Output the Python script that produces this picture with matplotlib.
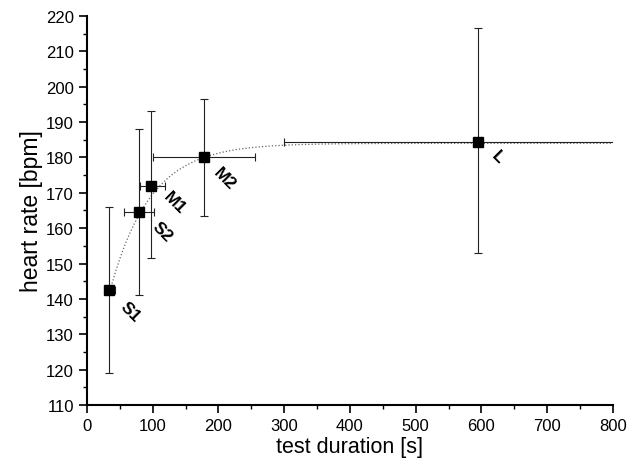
import numpy as np
import matplotlib.pyplot as plt
from matplotlib.ticker import MultipleLocator

plt.rcParams['font.family'] = ['Liberation Sans', 'DejaVu Sans']

# test groups
labels = ['S1', 'S2', 'M1', 'M2', 'L']
duration = [34, 79, 98, 178, 595]
hr = [142.5, 164.5, 172.0, 180.0, 184.5]
hr_lo = [119.0, 141.0, 151.5, 163.5, 153.0]
hr_hi = [166.0, 188.0, 193.0, 196.5, 216.5]
dur_lo = [27, 57, 81, 100, 300]
dur_hi = [43, 102, 118, 256, 900]

# exponential fit parameters
fit_A, fit_B, fit_tau = 184.0, 74.0, 61.0

x = np.array(duration, dtype=float)
y = np.array(hr)
yerr = [y - np.array(hr_lo), np.array(hr_hi) - y]
xerr = [x - np.array(dur_lo), np.array(dur_hi) - x]

fig = plt.figure(figsize=(6.41, 4.64), dpi=100)
ax = fig.add_axes([0.1357, 0.125, 0.8206, 0.8384])

xf = np.linspace(duration[0], 800, 300)
ax.plot(xf, fit_A - fit_B * np.exp(-xf / fit_tau), ls=':', color='#666666', lw=0.9)

ax.errorbar(x, y, yerr=yerr, xerr=xerr, fmt='s', color='black', ms=6.5,
            elinewidth=0.8, capsize=3, capthick=0.8, ecolor='#222222')

offsets = {'S1': (15, -15), 'S2': (17, -14), 'M1': (17, -12), 'M2': (15, -15), 'L': (14, -11)}
for lab, xi, yi in zip(labels, x, y):
    dx, dy = offsets[lab]
    ax.annotate(lab, (xi, yi), xytext=(dx, dy), textcoords='offset points',
                rotation=-45, fontsize=12.5, fontweight='bold', ha='center', va='center')

ax.set_xlim(0, 800)
ax.set_ylim(110, 220)
ax.xaxis.set_major_locator(MultipleLocator(100))
ax.xaxis.set_minor_locator(MultipleLocator(50))
ax.yaxis.set_major_locator(MultipleLocator(10))
ax.yaxis.set_minor_locator(MultipleLocator(5))
ax.tick_params(which='major', length=6, width=1.2, labelsize=12)
ax.tick_params(which='minor', length=3, width=1.0)
ax.spines['top'].set_visible(False)
ax.spines['right'].set_visible(False)
ax.spines['left'].set_linewidth(1.5)
ax.spines['bottom'].set_linewidth(1.5)

ax.set_xlabel('test duration [s]', fontsize=15.5, labelpad=2)
ax.set_ylabel('heart rate [bpm]', fontsize=16.5, labelpad=2)

fig.savefig('out.png', dpi=100)
